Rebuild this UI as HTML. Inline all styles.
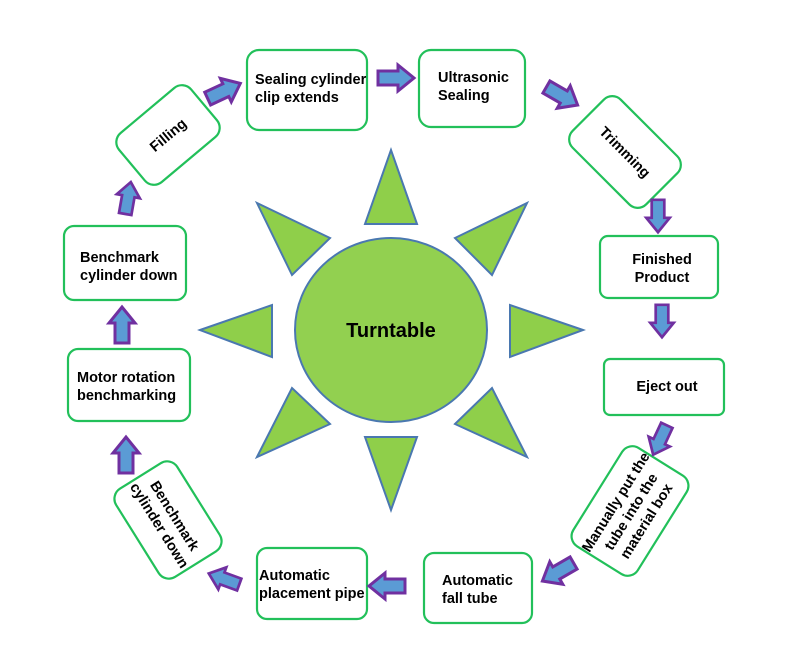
<!DOCTYPE html>
<html><head><meta charset="utf-8"><style>
body{margin:0;background:#fff}
svg{display:block}
text{font-family:"Liberation Sans",sans-serif;font-weight:bold;font-size:14.5px;fill:#000}
.b{fill:#fff;stroke:#22c05a;stroke-width:2.2}
.t{fill:#8fcf4a;stroke:#4a78b0;stroke-width:2}
</style></head><body>
<svg width="800" height="658" viewBox="0 0 800 658">
<defs>
<g id="ar"><polygon points="-18,-7 2,-7 2,-13 18,0 2,13 2,7 -18,7" fill="#5b9bd5" stroke="#7030a0" stroke-width="3"/></g>
</defs>
<ellipse cx="391" cy="330" rx="96" ry="92" fill="#92d050" stroke="#4a78b0" stroke-width="2"/>
<text x="391" y="337" text-anchor="middle" style="font-size:20px">Turntable</text>
<polygon class="t" points="391,150 365,224 417,224"/>
<polygon class="t" points="391,510 365,437 417,437"/>
<polygon class="t" points="200,330 272,305 272,357"/>
<polygon class="t" points="583,330 510,305 510,357"/>
<polygon class="t" points="257,203 292,275 330,238"/>
<polygon class="t" points="527,203 455,238 492,275"/>
<polygon class="t" points="257,457 292,388 330,424"/>
<polygon class="t" points="527,457 492,388 455,424"/>
<rect class="b" x="247" y="50" width="120" height="80" rx="12"/>
<text x="255" y="84">Sealing cylinder</text><text x="255" y="102">clip extends</text>
<rect class="b" x="419" y="50" width="106" height="77" rx="12"/>
<text x="438" y="82">Ultrasonic</text><text x="438" y="100">Sealing</text>
<g transform="translate(625,152) rotate(45)"><rect class="b" x="-52" y="-34" width="104" height="68" rx="12"/><text x="0" y="5" text-anchor="middle">Trimming</text></g>
<rect class="b" x="600" y="236" width="118" height="62" rx="8"/>
<text x="662" y="264" text-anchor="middle">Finished</text><text x="662" y="282" text-anchor="middle">Product</text>
<rect class="b" x="604" y="359" width="120" height="56" rx="6"/>
<text x="667" y="391" text-anchor="middle">Eject out</text>
<g transform="translate(630,511) rotate(-58)"><rect class="b" x="-58" y="-38" width="116" height="76" rx="12"/>
<text x="0" y="-12" text-anchor="middle">Manually put the</text><text x="0" y="6" text-anchor="middle">tube into the</text><text x="0" y="24" text-anchor="middle">material box</text></g>
<rect class="b" x="424" y="553" width="108" height="70" rx="10"/>
<text x="442" y="585">Automatic</text><text x="442" y="603">fall tube</text>
<rect class="b" x="257" y="548" width="110" height="71" rx="10"/>
<text x="259" y="580">Automatic</text><text x="259" y="598">placement pipe</text>
<g transform="translate(168,520) rotate(58)"><rect class="b" x="-52" y="-36" width="104" height="72" rx="12"/>
<text x="0" y="-3" text-anchor="middle">Benchmark</text><text x="0" y="15" text-anchor="middle">cylinder down</text></g>
<rect class="b" x="68" y="349" width="122" height="72" rx="10"/>
<text x="77" y="382">Motor rotation</text><text x="77" y="400">benchmarking</text>
<rect class="b" x="64" y="226" width="122" height="74" rx="10"/>
<text x="80" y="262">Benchmark</text><text x="80" y="280">cylinder down</text>
<g transform="translate(168,135) rotate(-40)"><rect class="b" x="-47" y="-32" width="94" height="64" rx="12"/><text x="0" y="5" text-anchor="middle">Filling</text></g>
<use href="#ar" transform="translate(224,91) rotate(-25)"/>
<use href="#ar" transform="translate(396,78)"/>
<use href="#ar" transform="translate(562,96) rotate(30)"/>
<use href="#ar" transform="translate(658,216) rotate(90) scale(0.9)"/>
<use href="#ar" transform="translate(662,321) rotate(90) scale(0.9)"/>
<use href="#ar" transform="translate(660,440) rotate(115) scale(0.9)"/>
<use href="#ar" transform="translate(558,572) rotate(150)"/>
<use href="#ar" transform="translate(387,586) rotate(180)"/>
<use href="#ar" transform="translate(224,579) rotate(200) scale(0.9)"/>
<use href="#ar" transform="translate(126,455) rotate(-90)"/>
<use href="#ar" transform="translate(122,325) rotate(-90)"/>
<use href="#ar" transform="translate(128,198) rotate(-80) scale(0.9)"/>
</svg>
</body></html>
